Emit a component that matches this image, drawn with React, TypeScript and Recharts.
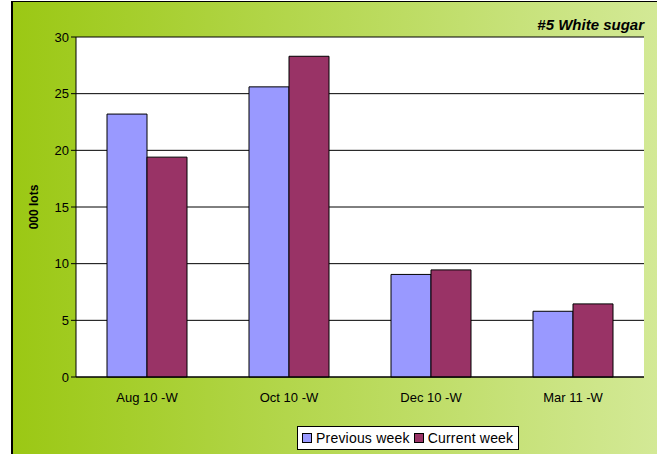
import React from "react"
import { BarChart, Bar, XAxis, YAxis, CartesianGrid, Legend, Label } from "recharts"

const categories = ["Aug 10 -W", "Oct 10 -W", "Dec 10 -W", "Mar 11 -W"]
const previousWeek = [23.2, 25.6, 9.05, 5.8]
const currentWeek = [19.4, 28.3, 9.45, 6.45]
const yTicks = [0, 5, 10, 15, 20, 25, 30]
const boundaryTicks = [0, 1, 2, 3, 4]

const PREV = "#9999FF"
const CURR = "#993366"
const FONT = "Arial, 'Liberation Sans', sans-serif"

const data = categories.map((name, i) => ({ name, prev: previousWeek[i], curr: currentWeek[i] }))

function LegendBox() {
  const item = (color: string, text: string) => (
    <span style={{ display: "inline-flex", alignItems: "center", marginRight: 4 }}>
      <span style={{ width: 8, height: 8, background: color, border: "1px solid #000", marginRight: 4 }} />
      {text}
    </span>
  )
  return (
    <div style={{ border: "1px solid #000", background: "#fff", fontFamily: FONT, fontSize: 14, letterSpacing: 0.2, color: "#000", padding: "3px 1px 3px 4px", whiteSpace: "nowrap", lineHeight: "16px", boxSizing: "border-box", height: 24 }}>
      {item(PREV, "Previous week")}
      {item(CURR, "Current week")}
    </div>
  )
}

export default function App() {
  return (
    <div style={{ position: "fixed", left: 0, top: 0, width: 657, height: 454, background: "#fff" }}>
      <div style={{ position: "absolute", left: 11, top: 1, width: 646, height: 453, borderLeft: "2px solid #000", borderTop: "1px solid #000", boxSizing: "border-box", background: "linear-gradient(to right, #9bc814, #d3e996)" }}>
        <div style={{ position: "absolute", right: 13, top: 14, fontFamily: FONT, fontSize: 15, fontWeight: "bold", fontStyle: "italic", color: "#000" }}>#5 White sugar</div>
        <BarChart width={644} height={452} data={data} margin={{ top: 35, right: 13, bottom: 23, left: 0 }} barCategoryGap={31} barGap={0}>
          <CartesianGrid vertical={false} stroke="#000" fill="#fff" />
          <XAxis xAxisId="cat" dataKey="name" tickLine={false} axisLine={{ stroke: "#000" }} tick={{ fontFamily: FONT, fontSize: 13, fill: "#000" }} tickMargin={10} height={30} interval={0} />
          <XAxis xAxisId="b" type="number" domain={[0, 4]} ticks={boundaryTicks} tick={() => <g />} tickLine={{ stroke: "#000" }} tickSize={5} axisLine={false} height={0} />
          <YAxis domain={[0, 30]} ticks={yTicks} width={63} axisLine={{ stroke: "#000" }} tickLine={{ stroke: "#000" }} tickSize={5} tick={{ fontFamily: FONT, fontSize: 13, fill: "#000" }}>
            <Label value="000 lots" angle={-90} position="insideLeft" offset={21} style={{ fontFamily: FONT, fontSize: 12, fontWeight: "bold", fill: "#000", textAnchor: "middle" }} />
          </YAxis>
          <YAxis yAxisId="r" orientation="right" width={0} axisLine={{ stroke: "#808080" }} tick={false} tickLine={false} />
          <Bar xAxisId="cat" dataKey="prev" name="Previous week" fill={PREV} stroke="#000" strokeWidth={1} isAnimationActive={false} />
          <Bar xAxisId="cat" dataKey="curr" name="Current week" fill={CURR} stroke="#000" strokeWidth={1} isAnimationActive={false} />
          <Legend content={() => <LegendBox />} wrapperStyle={{ position: "absolute", left: 284, top: 424, width: "auto" }} />
        </BarChart>
      </div>
    </div>
  )
}
